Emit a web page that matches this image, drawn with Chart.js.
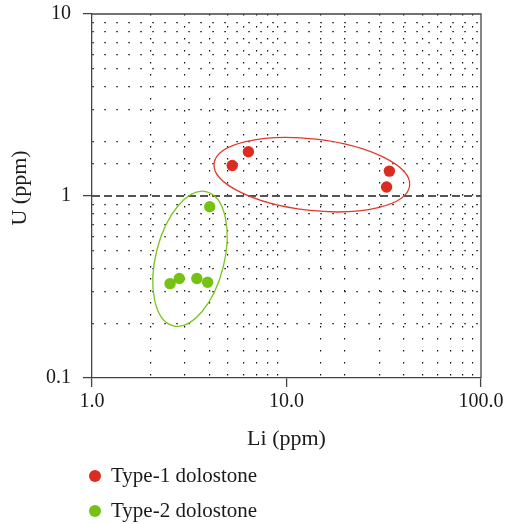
<!DOCTYPE html>
<html>
<head>
<meta charset="utf-8">
<script src="https://cdn.jsdelivr.net/npm/chart.js@4/dist/chart.umd.min.js"></script>
<style>
  html, body { margin: 0; padding: 0; background: #fff; }
  #wrap { position: relative; width: 505px; height: 524px; }
  #legend { position: absolute; left: 89px; top: 458px; font-family: "Liberation Serif", serif; font-size: 21px; color: #1a1a1a; }
  #legend div { height: 35px; display: flex; align-items: center; }
  #legend span.dot { display: inline-block; width: 12px; height: 12px; border-radius: 50%; margin-right: 10px; }
</style>
</head>
<body>
<div id="wrap">
  <canvas id="graph" width="505" height="524"></canvas>
  <div id="legend"></div>
</div>
<script>
// Li (ppm) and U (ppm)
let type1Li = [5.26, 6.37, 33.8, 32.7]
let type1U = [1.47, 1.75, 1.37, 1.12]
let type2Li = [4.03, 2.52, 2.81, 3.46, 3.93]
let type2U = [0.873, 0.33, 0.352, 0.352, 0.336]

let xTicks = [1, 10, 100]
let yTicks = [0.1, 1, 10]

// ellipses around the groups: centre in data units, semi axes in decades of the x axis
let ellipses = [
  { cx: 13.5, cy: 1.31, rx: 0.506, ry: 0.184, angle: 6.5, color: "#e0392b" },
  { cx: 3.19, cy: 0.452, rx: 0.176, ry: 0.355, angle: 14, color: "#78c51c" }
]

const red = "#dc2c20"
const green = "#74c214"
const serif = "'Liberation Serif', serif"
const ink = "#1a1a1a"

const toPoints = (xs, ys) => xs.map((x, i) => ({ x: x, y: ys[i] }))

const isMajor = (v) => Math.abs(Math.log10(v) - Math.round(Math.log10(v))) < 1e-6

const ellipsePlugin = {
  id: "ellipses",
  afterDatasetsDraw(chart) {
    let ctx = chart.ctx
    let xs = chart.scales.x
    let ys = chart.scales.y
    let decade = xs.getPixelForValue(10) - xs.getPixelForValue(1)
    ellipses.forEach(e => {
      ctx.save()
      ctx.beginPath()
      ctx.ellipse(xs.getPixelForValue(e.cx), ys.getPixelForValue(e.cy),
        e.rx * decade, e.ry * decade, e.angle * Math.PI / 180, 0, Math.PI * 2)
      ctx.strokeStyle = e.color
      ctx.lineWidth = 1.3
      ctx.stroke()
      ctx.restore()
    })
  }
}

// top and right side of the box, plus the y title a bit above centre
const framePlugin = {
  id: "frame",
  afterDraw(chart) {
    let a = chart.chartArea
    let ctx = chart.ctx
    ctx.save()
    ctx.strokeStyle = "#444"
    ctx.lineWidth = 1.3
    ctx.beginPath()
    ctx.moveTo(a.left, a.top)
    ctx.lineTo(a.right, a.top)
    ctx.lineTo(a.right, a.bottom)
    ctx.stroke()

    ctx.translate(20, 188)
    ctx.rotate(-Math.PI / 2)
    ctx.fillStyle = ink
    ctx.font = "22px " + serif
    ctx.textAlign = "center"
    ctx.textBaseline = "middle"
    ctx.fillText("U (ppm)", 0, 0)
    ctx.restore()
  }
}

const gridFor = () => ({
  color: c => isMajor(c.tick.value) ? "rgba(0,0,0,0)" : "#111",
  tickColor: c => isMajor(c.tick.value) ? "#444" : "rgba(0,0,0,0)",
  tickLength: 9,
  tickWidth: 1.3,
  lineWidth: 1.2
})

const config = {
  type: "scatter",
  data: {
    datasets: [
      {
        label: "Type-1 dolostone",
        data: toPoints(type1Li, type1U),
        backgroundColor: red,
        borderWidth: 0,
        pointRadius: 5.7,
        order: 1
      },
      {
        label: "Type-2 dolostone",
        data: toPoints(type2Li, type2U),
        backgroundColor: green,
        borderWidth: 0,
        pointRadius: 5.7,
        order: 1
      },
      {
        label: "U = 1",
        data: [{ x: xTicks[0], y: 1 }, { x: xTicks[2], y: 1 }],
        showLine: true,
        pointRadius: 0,
        borderColor: "#555",
        borderWidth: 2,
        borderDash: [8, 4],
        order: 2
      }
    ]
  },
  options: {
    responsive: false,
    animation: false,
    layout: { padding: { left: 5, top: 14, right: 24, bottom: 72 } },
    plugins: { legend: { display: false }, tooltip: { enabled: false } },
    scales: {
      x: {
        type: "logarithmic",
        min: xTicks[0],
        max: xTicks[2],
        afterFit: s => { s.height = 74; s.paddingLeft = 0; s.paddingRight = 0 },
        ticks: {
          autoSkip: false,
          maxRotation: 0,
          padding: 3,
          color: ink,
          font: { family: serif, size: 20 },
          callback: v => xTicks.includes(v) ? v.toFixed(1) : ""
        },
        grid: gridFor(),
        border: { color: "#444", width: 1.3, dash: [1.5, 10.5] },
        title: { display: true, text: "Li (ppm)", color: ink, padding: 0, font: { family: serif, size: 22 } }
      },
      y: {
        type: "logarithmic",
        min: yTicks[0],
        max: yTicks[2],
        afterFit: s => { s.width = 87; s.paddingTop = 0; s.paddingBottom = 0 },
        ticks: {
          autoSkip: false,
          padding: 12,
          color: ink,
          font: { family: serif, size: 20 },
          callback: v => isMajor(v) ? (v >= 1 ? String(Math.round(v)) : v.toFixed(1)) : ""
        },
        grid: gridFor(),
        border: { color: "#444", width: 1.3, dash: [1.5, 10.5] },
        title: { display: false }
      }
    }
  },
  plugins: [ellipsePlugin, framePlugin]
}

const chart = new Chart(document.getElementById("graph").getContext("2d"), config)

// legend stacked under the plot, like the original
let legend = document.getElementById("legend")
chart.data.datasets.slice(0, 2).forEach(d => {
  let row = document.createElement("div")
  row.innerHTML = `<span class="dot" style="background:${d.backgroundColor}"></span>${d.label}`
  legend.appendChild(row)
})
</script>
</body>
</html>
